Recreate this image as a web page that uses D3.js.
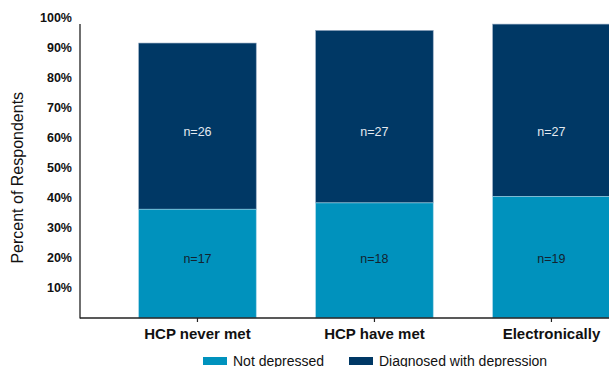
<!DOCTYPE html>
<html>
<head>
<meta charset="utf-8">
<script src="https://cdn.jsdelivr.net/npm/d3@7"></script>
<style>
  html, body { margin: 0; padding: 0; background: #fff; }
  svg { display: block; font-family: "Liberation Sans", Arial, sans-serif; }
</style>
</head>
<body>
<svg id="chart" width="609" height="367"></svg>
<script>
// Survey groups and the share of respondents in each (percent of all respondents)
const categories = ["HCP never met", "HCP have met", "Electronically"];
const notDepressed = [36.2, 38.3, 40.4];
const diagnosed = [55.3, 57.4, 57.4];
const countsNotDepressed = [17, 18, 19];
const countsDiagnosed = [26, 27, 27];
const seriesNames = ["Not depressed", "Diagnosed with depression"];
const yTicks = [10, 20, 30, 40, 50, 60, 70, 80, 90, 100];

const colors = { light: "#0092bd", dark: "#003865" };
const font = "Liberation Sans, Arial, sans-serif";

const svg = d3.select("#chart");
const axisX0 = 80, plotRight = 609;
const y = d3.scaleLinear().domain([0, 100]).range([318, 17.5]);
const x = d3.scaleBand().domain(categories).range([138.7, 610.2])
  .paddingInner(0.336).paddingOuter(0);

const rows = categories.map((c, i) => ({
  cat: c, a: notDepressed[i], b: diagnosed[i],
  na: countsNotDepressed[i], nb: countsDiagnosed[i]
}));

// stacked bars
const g = svg.append("g");
g.selectAll("rect.dark").data(rows).join("rect")
  .attr("x", d => x(d.cat)).attr("width", x.bandwidth())
  .attr("y", d => y(d.a + d.b)).attr("height", d => y(d.a) - y(d.a + d.b))
  .attr("fill", colors.dark).attr("stroke", "#8fa6bf").attr("stroke-width", 0.6);
g.selectAll("rect.light").data(rows).join("rect")
  .attr("x", d => x(d.cat)).attr("width", x.bandwidth())
  .attr("y", d => y(d.a)).attr("height", d => y(0) - y(d.a))
  .attr("fill", colors.light).attr("stroke", "#9fd3e6").attr("stroke-width", 0.6);

// count labels, aligned on a common row across the bars
const upperRow = y(62), lowerRow = y(19.7);
g.selectAll("text.nb").data(rows).join("text")
  .attr("x", d => x(d.cat) + x.bandwidth() / 2)
  .attr("y", upperRow + 4.5)
  .attr("text-anchor", "middle").attr("font-size", 12.5)
  .attr("fill", "#e4e9f0").text(d => "n=" + d.nb);
g.selectAll("text.na").data(rows).join("text")
  .attr("x", d => x(d.cat) + x.bandwidth() / 2)
  .attr("y", lowerRow + 4.5)
  .attr("text-anchor", "middle").attr("font-size", 12.5)
  .attr("fill", "#13222f").text(d => "n=" + d.na);

// y axis
const yAxis = svg.append("g").attr("transform", `translate(${axisX0},0)`)
  .call(d3.axisLeft(y).tickValues(yTicks).tickSize(0).tickPadding(8)
    .tickFormat(d => d + "%"));
yAxis.select(".domain").remove();
yAxis.selectAll("text").attr("font-size", 12.5).attr("font-weight", "bold")
  .attr("fill", "#111").attr("font-family", font);
svg.append("line").attr("x1", axisX0).attr("x2", axisX0)
  .attr("y1", 24).attr("y2", y(0) + 0.5)
  .attr("stroke", "#222").attr("stroke-width", 1.3);

// x axis
const xAxis = svg.append("g").attr("transform", `translate(0,${y(0)})`)
  .call(d3.axisBottom(x).tickSize(4).tickPadding(6));
xAxis.select(".domain").remove();
xAxis.selectAll(".tick line").attr("stroke", "#222").attr("stroke-width", 1.2);
xAxis.selectAll("text").attr("font-size", 15).attr("font-weight", "bold")
  .attr("fill", "#111").attr("font-family", font);
svg.append("line").attr("x1", axisX0).attr("x2", plotRight)
  .attr("y1", y(0)).attr("y2", y(0))
  .attr("stroke", "#222").attr("stroke-width", 1.3);

// y axis title
svg.append("text")
  .attr("transform", `translate(23,${y(50) + 10}) rotate(-90)`)
  .attr("text-anchor", "middle").attr("font-size", 16)
  .attr("fill", "#111").text("Percent of Respondents");

// legend
const legend = svg.append("g").attr("transform", "translate(203,357)");
const legendX = [0, 146];
const legendColors = [colors.light, colors.dark];
seriesNames.forEach((name, i) => {
  legend.append("rect").attr("x", legendX[i]).attr("y", 0)
    .attr("width", 24).attr("height", 8).attr("fill", legendColors[i]);
  legend.append("text").attr("x", legendX[i] + 30).attr("y", 8.5)
    .attr("font-size", 14).attr("fill", "#111").text(name);
});
</script>
</body>
</html>
